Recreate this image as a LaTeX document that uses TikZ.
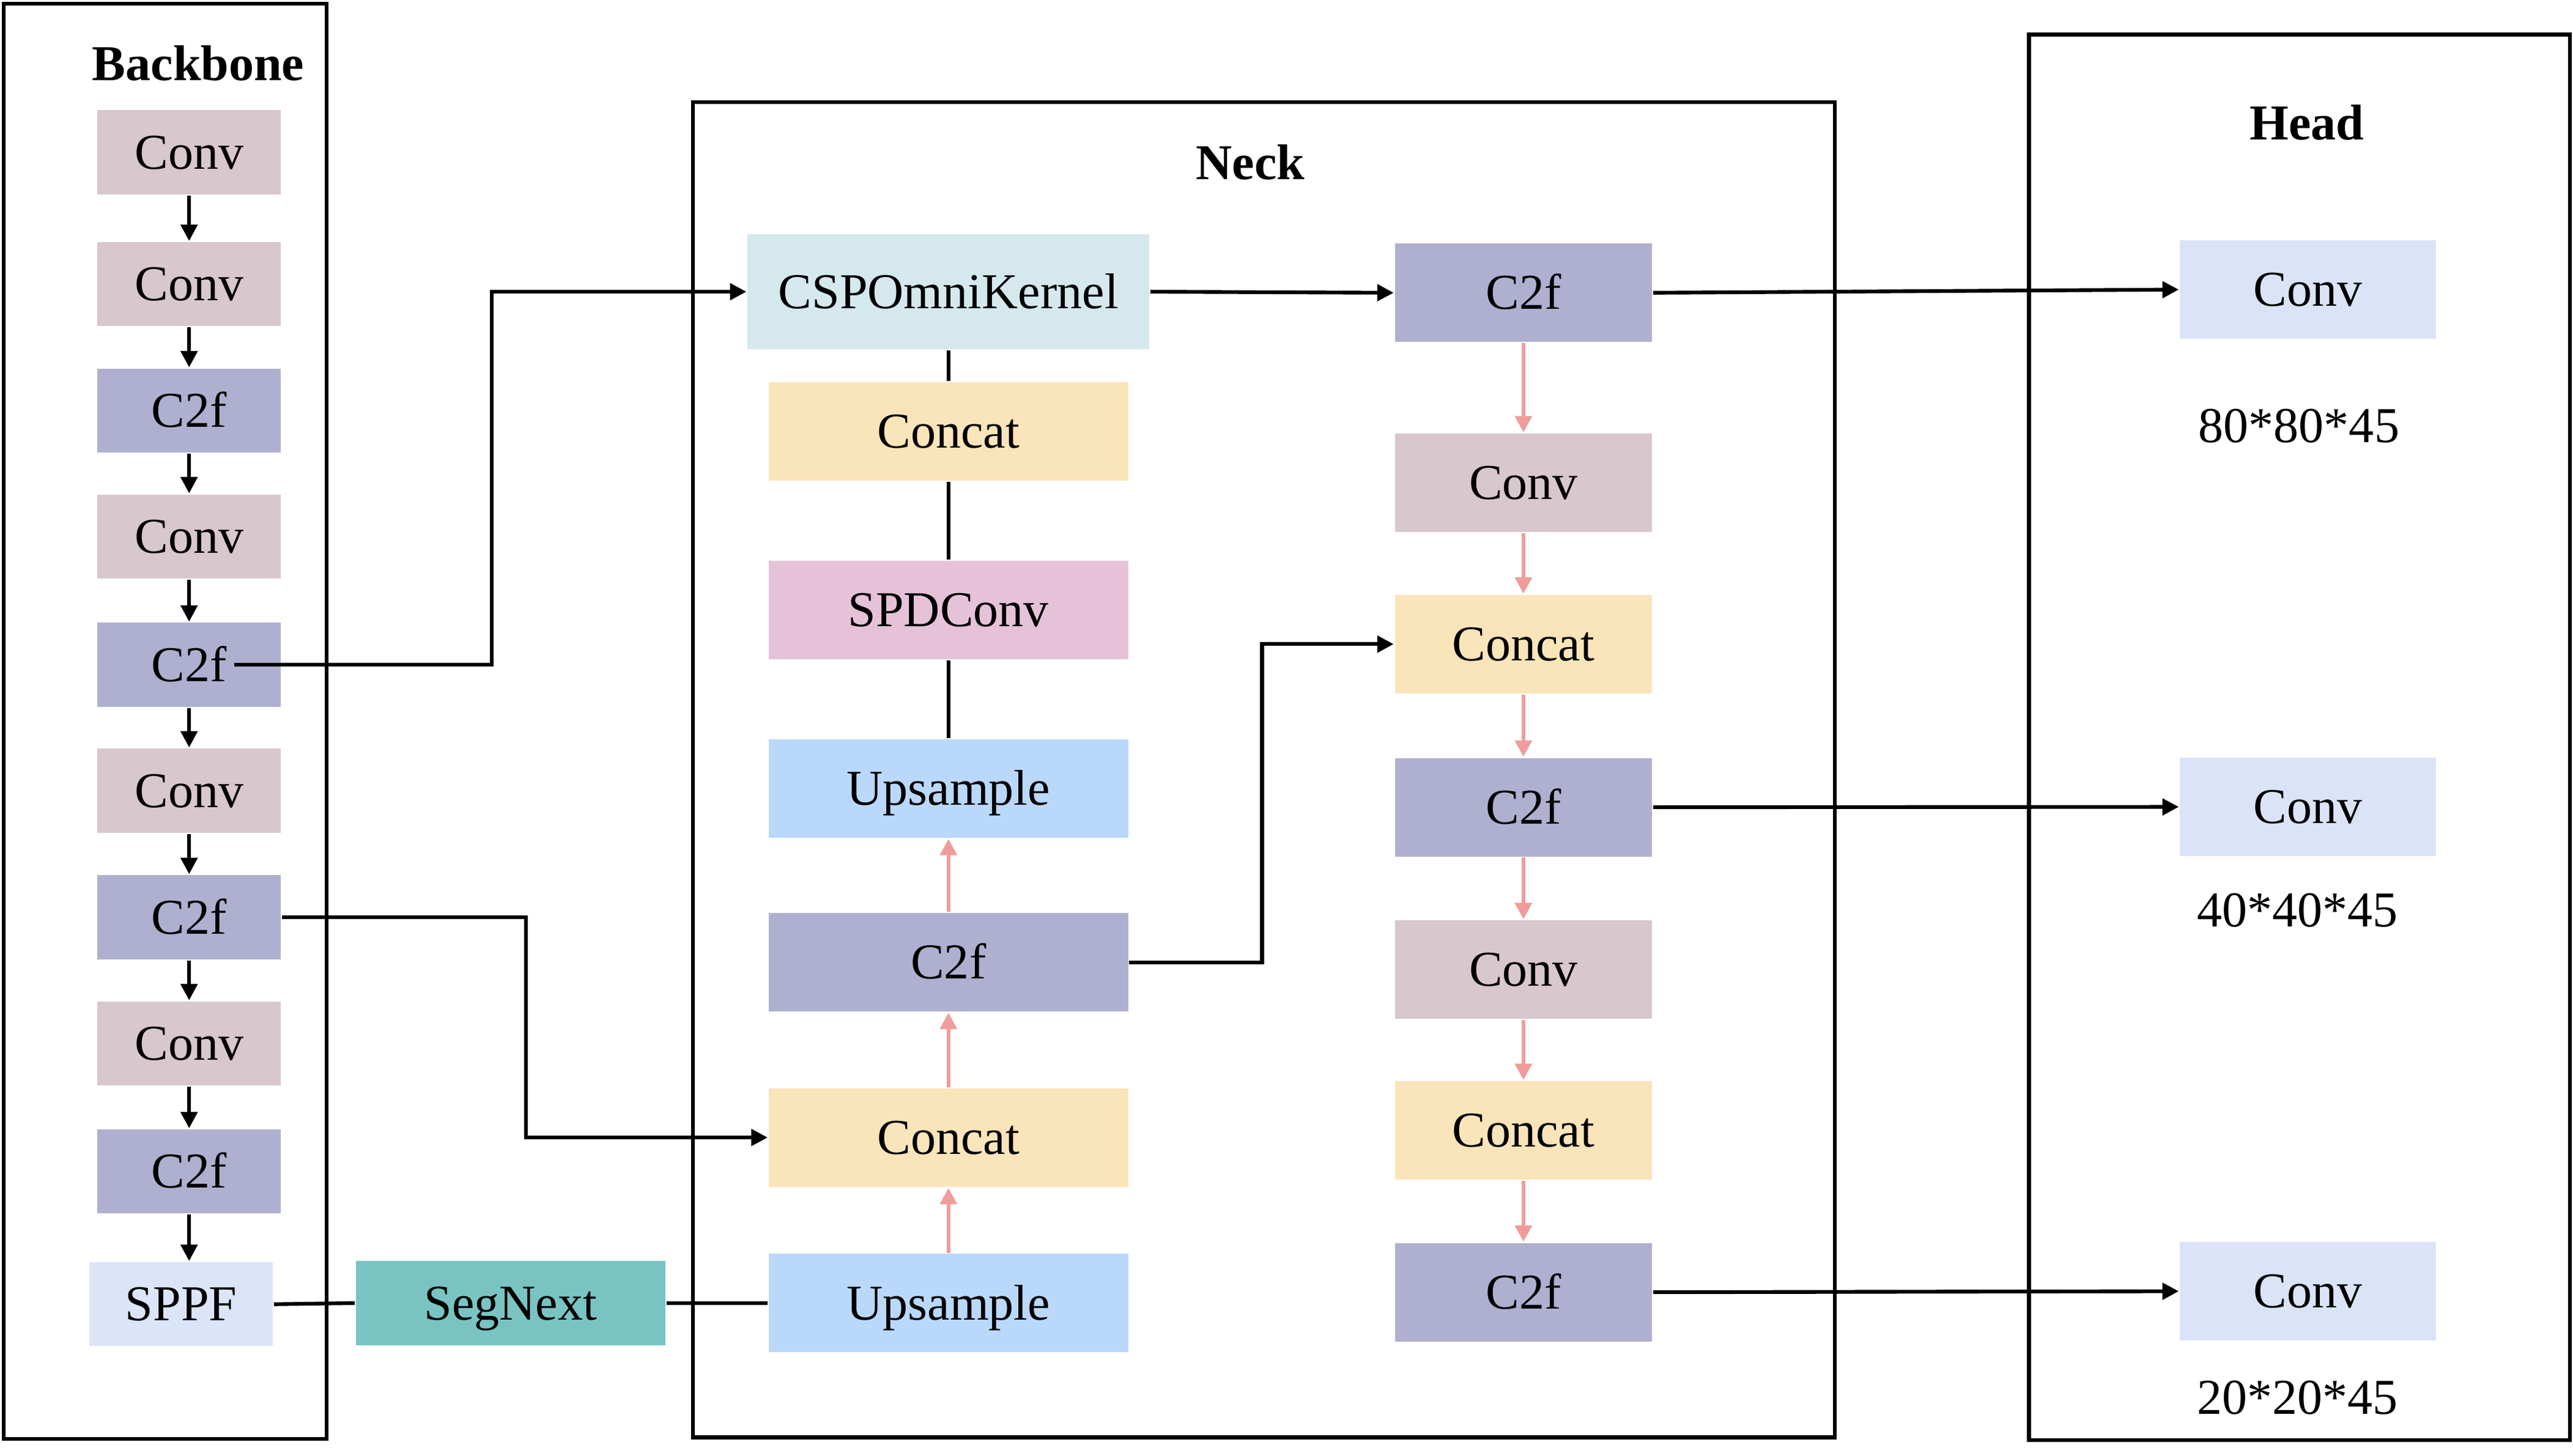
\documentclass[tikz,border=0pt]{standalone}
\usepackage{fontspec}
\setmainfont{Liberation Serif}
\usetikzlibrary{arrows.meta}
\definecolor{cconv}{HTML}{D8C7CC}
\definecolor{cctwo}{HTML}{AFB0D0}
\definecolor{cconcat}{HTML}{FAE4BA}
\definecolor{cup}{HTML}{BAD8FA}
\definecolor{cspd}{HTML}{E6C2D8}
\definecolor{ccsp}{HTML}{D5E8EE}
\definecolor{cseg}{HTML}{79C4C3}
\definecolor{csppf}{HTML}{DCE4F7}
\definecolor{chead}{HTML}{DBE4F7}
\definecolor{cpink}{HTML}{F09C9C}
\begin{document}
\begin{tikzpicture}[x=0.1mm,y=-0.1mm,
  font=\fontsize{8.7}{10}\selectfont,
  box/.style={rectangle, inner sep=0pt, draw=none, text height=5.76pt, text depth=0pt},
  bb/.style={box, minimum width=11.19mm, minimum height=5.12mm},
  nl/.style={box, minimum width=21.9mm, minimum height=6.0mm},
  rc/.style={box, minimum width=15.68mm, minimum height=6.0mm},
  hc/.style={box, minimum width=15.61mm, minimum height=6.0mm, fill=chead},
  frame/.style={draw=black, line width=0.68pt},
  ttl/.style={font=\fontsize{8.7}{10}\selectfont\bfseries, anchor=base},
  lbl/.style={anchor=base},
  arr/.style={-{Triangle[length=1mm,width=1mm]}, line width=0.65pt},
  parr/.style={-{Triangle[length=1mm,width=1mm]}, line width=0.7pt, draw=cpink, fill=cpink},
  ln/.style={line width=0.65pt}]
\useasboundingbox (0,0) rectangle (1568,887.4);

% frames
\draw[frame] (2.2,2.2) rectangle (199,877);
\draw[frame] (422.3,62.2) rectangle (1118.2,876.1);
\draw[frame] (1236.5,21.1) rectangle (1566.2,877.7);

% titles
\node[ttl] (tb) at (120.8,49) {Backbone};
\node[ttl] (tn) at (761.9,109.5) {Neck};
\node[ttl] (th) at (1405.8,85) {Head};

% backbone
\node[bb, fill=cconv] (b1) at (115.25,92.8) {Conv};
\node[bb, fill=cconv] (b2) at (115.25,173.2) {Conv};
\node[bb, fill=cctwo] (b3) at (115.25,250.2) {C2f};
\node[bb, fill=cconv] (b4) at (115.25,327) {Conv};
\node[bb, fill=cctwo] (b5) at (115.25,405.2) {C2f};
\node[bb, fill=cconv] (b6) at (115.25,481.9) {Conv};
\node[bb, fill=cctwo] (b7) at (115.25,559.1) {C2f};
\node[bb, fill=cconv] (b8) at (115.25,636) {Conv};
\node[bb, fill=cctwo] (b9) at (115.25,714) {C2f};
\node[bb, fill=csppf] (sppf) at (110.4,794.9) {SPPF};
\node[box, minimum width=18.88mm, minimum height=5.17mm, fill=cseg] (seg) at (311.2,794.2) {SegNext};

% neck left column
\node[box, minimum width=24.49mm, minimum height=7.01mm, fill=ccsp] (csp) at (578,177.8) {CSPOmniKernel};
\node[nl, fill=cconcat] (n1) at (578,263) {Concat};
\node[nl, fill=cspd] (n2) at (578,371.8) {SPDConv};
\node[nl, fill=cup] (n3) at (578,480.6) {Upsample};
\node[nl, fill=cctwo] (n4) at (578,586.5) {C2f};
\node[nl, fill=cconcat] (n5) at (578,693.3) {Concat};
\node[nl, fill=cup] (n6) at (578,794.2) {Upsample};

% neck right column
\node[rc, fill=cctwo] (r1) at (928.4,178.45) {C2f};
\node[rc, fill=cconv] (r2) at (928.4,294.3) {Conv};
\node[rc, fill=cconcat] (r3) at (928.4,392.6) {Concat};
\node[rc, fill=cctwo] (r4) at (928.4,492) {C2f};
\node[rc, fill=cconv] (r5) at (928.4,591) {Conv};
\node[rc, fill=cconcat] (r6) at (928.4,689) {Concat};
\node[rc, fill=cctwo] (r7) at (928.4,787.6) {C2f};

% head
\node[hc] (h1) at (1406.5,176.5) {Conv};
\node[hc] (h2) at (1406.5,491.8) {Conv};
\node[hc] (h3) at (1406.5,787) {Conv};
\node[lbl] (l1) at (1401,269.8) {80*80*45};
\node[lbl] (l2) at (1400,564.7) {40*40*45};
\node[lbl] (l3) at (1400,862) {20*20*45};

% backbone arrows
\foreach \a/\b in {b1/b2,b2/b3,b3/b4,b4/b5,b5/b6,b6/b7,b7/b8,b8/b9}
  \draw[arr] (\a.south) -- (\b.north);
\draw[arr] (b9.south) -- (b9.south |- sppf.north);

% skip connections from backbone
\coordinate (s5) at (142.6,405.2);
\draw[arr] (s5) -- ++(157.1,0) |- (csp.west);
\draw[arr] (b7.east) -- ++(148.5,0) |- (n5.west);
\draw[ln] (sppf.east) -- (seg.west);
\draw[ln] (seg.east) -- (n6.west);

% neck left column
\draw[ln] (csp.south) -- (n1.north);
\draw[ln] (n1.south) -- (n2.north);
\draw[ln] (n2.south) -- (n3.north);
\draw[parr] (n6.north) -- (n5.south);
\draw[parr] (n5.north) -- (n4.south);
\draw[parr] (n4.north) -- (n3.south);
\draw[arr] (n4.east) -- ++(80.9,0) |- (r3.west);
\draw[arr] (csp.east) -- (r1.west);

% neck right column
\foreach \a/\b in {r1/r2,r2/r3,r3/r4,r4/r5,r5/r6,r6/r7}
  \draw[parr] (\a.south) -- (\b.north);

% to head
\draw[arr] (r1.east) -- (h1.west);
\draw[arr] (r4.east) -- (h2.west);
\draw[arr] (r7.east) -- (h3.west);
\end{tikzpicture}
\end{document}
